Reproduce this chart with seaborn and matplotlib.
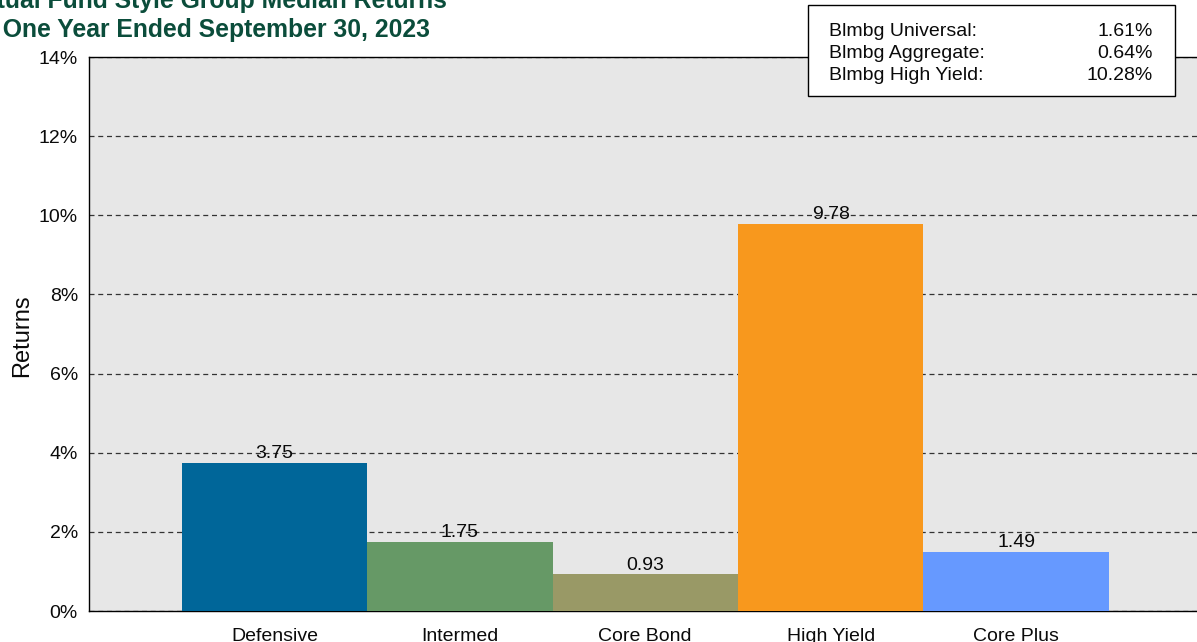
import matplotlib
matplotlib.use("Agg")
import matplotlib.pyplot as plt
import seaborn as sns
from matplotlib.patches import Rectangle
from matplotlib.ticker import FuncFormatter

categories = ["Defensive", "Intermed", "Core Bond", "High Yield", "Core Plus"]
returns = [3.75, 1.75, 0.93, 9.78, 1.49]
colors = ["#006699", "#669966", "#999966", "#F8981D", "#6699FF"]
bench_names = ["Blmbg Universal:", "Blmbg Aggregate:", "Blmbg High Yield:"]
bench_values = ["1.61%", "0.64%", "10.28%"]
yticks = [0, 2, 4, 6, 8, 10, 12, 14]

sns.set_theme(style="white")
plt.rcParams["font.family"] = ["Liberation Sans", "DejaVu Sans"]

W, H = 1197, 642
fig = plt.figure(figsize=(W / 100, H / 100), dpi=100)
ax = fig.add_axes([89 / W, 31 / H, (1201.5 - 89) / W, (611 - 57) / H])
ax.set_facecolor("#E7E7E7")

sns.barplot(x=categories, y=returns, hue=categories, palette=colors,
            width=1.0, legend=False, ax=ax, saturation=1,
            linewidth=0, zorder=3)

ax.set_xlim(-1, 5)
ax.set_ylim(0, 14)
ax.set_yticks(yticks)
ax.yaxis.set_major_formatter(FuncFormatter(lambda v, p: f"{int(v)}%"))
ax.grid(axis="y", linestyle=(0, (4, 3)), color="#333333", linewidth=0.9, zorder=1)
ax.set_axisbelow(True)
ax.tick_params(axis="y", length=0, pad=8, labelsize=14, colors="#0a0a0a")
ax.tick_params(axis="x", length=0, pad=12.5, labelsize=14, colors="#0a0a0a")
ax.set_xlabel("")
ax.set_ylabel("")
for s in ax.spines.values():
    s.set_color("black")
    s.set_linewidth(1.0)

fig.text(22 / W, 1 - 336 / H, "Returns", rotation=90, ha="center", va="center",
         fontsize=17, color="#0a0a0a")

for i, v in enumerate(returns):
    ax.annotate(f"{v:.2f}", (i, v), xytext=(0, 0.5), textcoords="offset points",
                ha="center", va="bottom", fontsize=14, color="#0a0a0a", zorder=5)

# Title (partly off-canvas as in reference)
title_color = "#0B4D3B"
fig.text(447 / W, 1 - 8 / H, "Mutual Fund Style Group Median Returns",
         ha="right", va="baseline", fontsize=17.85, fontweight="bold", color=title_color)
fig.text(430 / W, 1 - 37 / H, "for One Year Ended September 30, 2023",
         ha="right", va="baseline", fontsize=17.85, fontweight="bold", color=title_color)

# Benchmark box
fig.add_artist(Rectangle((808 / W, 1 - 96 / H), (1175 - 808) / W, (96 - 5) / H,
                         transform=fig.transFigure, facecolor="white",
                         edgecolor="black", linewidth=1.0, zorder=10))
baselines = [36, 58, 80]
for name, val, b in zip(bench_names, bench_values, baselines):
    fig.text(829 / W, 1 - b / H, name, ha="left", va="baseline",
             fontsize=14, color="#0a0a0a", zorder=11)
    fig.text(1153 / W, 1 - b / H, val, ha="right", va="baseline",
             fontsize=14, color="#0a0a0a", zorder=11)

fig.savefig("out.png", dpi=100)
